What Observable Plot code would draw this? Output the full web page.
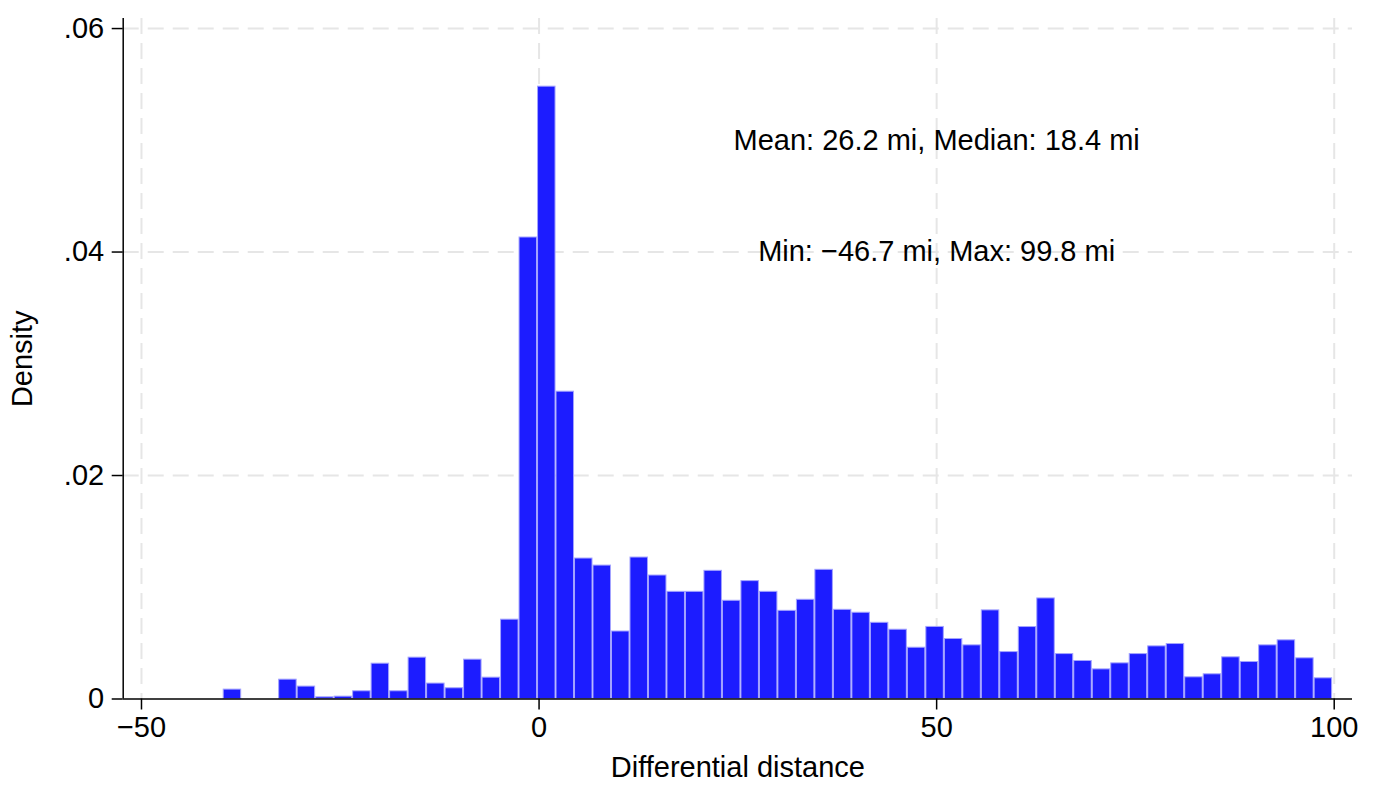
<!DOCTYPE html>
<html>
<head>
<meta charset="utf-8">
<script src="https://cdn.jsdelivr.net/npm/d3@7"></script>
<script src="https://cdn.jsdelivr.net/npm/@observablehq/plot@0.6"></script>
<style>
  html, body { margin: 0; padding: 0; background: #ffffff; }
  #chart { width: 1377px; height: 785px; }
</style>
</head>
<body>
<div id="chart"></div>
<script>
// ---- Data ----
const distMin = -46.7;
const distMax = 99.8;
const distMean = 26.2;
const distMedian = 18.4;

// density of each of the 63 equal-width bins, from distMin to distMax
const binDensity = [
  0, 0, 0, 0.00084, 0, 0, 0.00173, 0.00111, 0.00015, 0.00021,
  0.00069, 0.00316, 0.00069, 0.0037, 0.00138, 0.00096, 0.00352, 0.00191, 0.0071, 0.0413,
  0.0548, 0.0275, 0.01257, 0.01194, 0.00604, 0.01266, 0.01105, 0.00959, 0.00959, 0.01147,
  0.00879, 0.01055, 0.00959, 0.00789, 0.00888, 0.01156, 0.00798, 0.00772, 0.00682, 0.0062,
  0.00459, 0.00645, 0.00537, 0.0048, 0.00793, 0.0042, 0.00644, 0.009, 0.00402, 0.0034,
  0.00265, 0.00319, 0.00402, 0.00471, 0.00492, 0.00194, 0.00221, 0.00373, 0.00331, 0.0048,
  0.00525, 0.00364, 0.00185
];

const xTicks = [-50, 0, 50, 100];
const yTicks = [0, 0.02, 0.04, 0.06];
const xDomain = [-52.3, 102.3];
const yDomain = [0, 0.0609];

const xTitle = "Differential distance";
const yTitle = "Density";

const fmt1 = d3.format(".1f");
const annotationText = [
  `Mean: ${fmt1(distMean)} mi, Median: ${fmt1(distMedian)} mi`,
  `Min: ${fmt1(distMin)} mi, Max: ${fmt1(distMax)} mi`
];
const annotationX = [50, 50];
const annotationY = [0.05, 0.04];

// ---- Build table ----
const binWidth = (distMax - distMin) / binDensity.length;
const bins = binDensity.map((d, i) => ({
  x1: distMin + i * binWidth,
  x2: distMin + (i + 1) * binWidth,
  density: d
})).filter(b => b.density > 0);

const annotations = annotationText.map((t, i) => ({ text: t, x: annotationX[i], y: annotationY[i] }));

const fontFamily = "'Liberation Sans', Arial, Helvetica, sans-serif";
const gridStyle = { stroke: "#e6e6e6", strokeOpacity: 1, strokeWidth: 2, strokeDasharray: "16,9" };

const chart = Plot.plot({
  width: 1377,
  height: 785,
  marginLeft: 122.7,
  marginRight: 25,
  marginTop: 18,
  marginBottom: 86.5,
  style: { fontFamily, fontSize: "29px", color: "#000", background: "#fff" },
  x: { domain: xDomain },
  y: { domain: yDomain },
  marks: [
    Plot.gridY(yTicks.filter(d => d > 0), gridStyle),
    Plot.gridX(xTicks, gridStyle),
    Plot.rectY(bins, {
      x1: "x1", x2: "x2", y: "density",
      fill: "#1c1cff", stroke: "#a3a3ff", strokeWidth: 1,
      insetLeft: 0.5, insetRight: 0.5
    }),
    Plot.ruleY([yDomain[0]], { stroke: "#000", strokeWidth: 1.5 }),
    Plot.ruleX([xDomain[0]], { stroke: "#000", strokeWidth: 1.5 }),
    Plot.axisX({
      ticks: xTicks, tickSize: 11, tickPadding: 6, strokeWidth: 1.5, fontSize: 29,
      tickFormat: d3.format("d"),
      label: xTitle, labelAnchor: "center", labelOffset: 78, labelArrow: "none"
    }),
    Plot.axisY({
      ticks: yTicks, tickSize: 11, tickPadding: 8, strokeWidth: 1.5, fontSize: 29,
      tickFormat: d => d === 0 ? "0" : d3.format(".2f")(d).replace(/^0/, ""),
      label: yTitle, labelAnchor: "center", labelOffset: 112, labelArrow: "none"
    }),
    Plot.text(annotations, {
      x: "x", y: "y", text: "text",
      fontSize: 29, fill: "#000", textAnchor: "middle", lineAnchor: "middle"
    })
  ]
});

document.getElementById("chart").appendChild(chart);
</script>
</body>
</html>
